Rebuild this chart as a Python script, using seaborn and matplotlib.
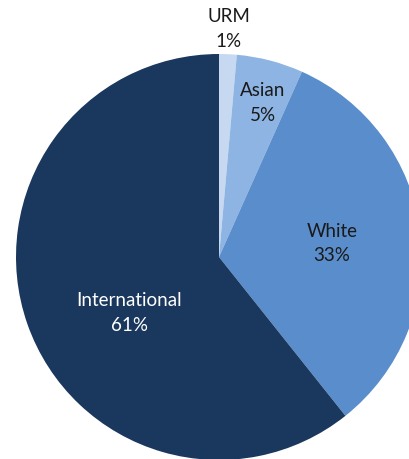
import matplotlib
matplotlib.use("Agg")
import matplotlib.pyplot as plt
import seaborn as sns

# Student composition shares (percent), clockwise from 12 o'clock
groups = ["URM", "Asian", "White", "International"]
shares = [1.4, 5.3, 32.6, 60.7]
colors = ["#C6D9F1", "#8DB4E2", "#5A8DCB", "#1A375E"]
text_colors = ["#1a1a1a", "#1a1a1a", "#1a1a1a", "#FFFFFF"]

sns.set_theme(style="white")
plt.rcParams["font.family"] = ["Lato", "DejaVu Sans"]

fig = plt.figure(figsize=(4.09, 4.60), dpi=100)
ax = fig.add_axes([0, 0, 1, 1])

wedges, _ = ax.pie(
    shares,
    colors=colors,
    startangle=90,
    counterclock=False,
    radius=1.0,
    wedgeprops=dict(linewidth=0),
)

# Label anchors in pie units (centre of each two-line label)
label_pos = [(0.047, 1.128), (0.217, 0.764), (0.557, 0.072), (-0.443, -0.271)]

for name, val, (x, y), tc in zip(groups, shares, label_pos, text_colors):
    ax.text(x, y, f"{name}\n{val:.0f}%", ha="center", va="center",
            color=tc, fontsize=13.5, linespacing=1.55)

# Frame the pie so it sits slightly clipped on the right and bottom
r_px = 203.0
cx, cy = 219.0, 258.0
ax.set_xlim(-cx / r_px, (409 - cx) / r_px)
ax.set_ylim(-(460 - cy) / r_px, cy / r_px)
ax.set_aspect("auto")
ax.axis("off")

fig.savefig("out.png", dpi=100)
